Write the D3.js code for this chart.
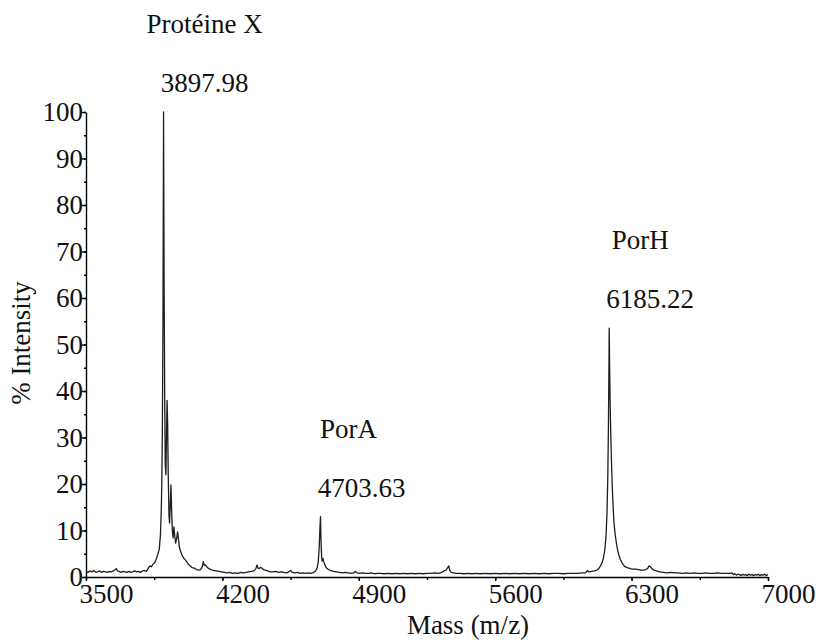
<!DOCTYPE html>
<html>
<head>
<meta charset="utf-8">
<script src="https://cdn.jsdelivr.net/npm/d3@7"></script>
<style>
  svg text { font-family: "Liberation Serif", "Times New Roman", serif !important; }
</style>
</head>
<body style="margin:0">
<script>
// spectrum, [m/z, % intensity], in pieces
const baseLow = [
  [3500,1.2],[3510,1.0],[3520,1.3],[3530,1.1],[3540,1.4],[3550,1.0],[3560,1.1],[3570,1.3],[3580,1.0],
  [3590,1.2],[3600,1.1],[3610,1.0],[3620,1.2],[3630,1.1],[3640,1.3],[3650,1.6],[3656,1.8],[3662,1.3],
  [3670,1.2],[3680,1.0],[3690,1.2],[3700,1.1],[3710,1.0],[3720,1.2],[3730,1.0],[3740,1.1],[3750,1.3],
  [3760,1.1],[3770,1.2],[3780,1.0],[3790,1.3],[3800,1.4],[3810,1.2],[3820,1.9]
];
const proteinX = [
  [3828,2.4],[3836,2.2],[3844,2.8],[3852,3.0],[3860,3.8],[3868,4.8],[3876,6.0],[3882,9],[3886,14],
  [3889,20],[3892,32],[3895,55],[3898,100],[3901,62],[3904,38],[3907,24],[3910,22],[3913,30],[3916,38],
  [3919,33],[3922,22],[3926,13],[3929,11.6],[3932,15],[3936,19.8],[3939,15],[3943,10],[3947,8.4],
  [3951,10.8],[3955,9],[3960,7.3],[3965,8.2],[3970,9.7],[3974,8.4],[3979,6.5],[3985,5.6],[3992,4.8],
  [3999,4.2],[4007,3.8],[4015,3.4],[4024,2.8],[4034,2.4],[4045,2.0],[4056,1.9],[4067,1.6],[4078,1.5],
  [4088,1.6],[4096,2.1],[4102,3.3],[4107,2.5],[4113,2.6],[4120,2.2],[4130,1.8],[4142,1.6],[4155,1.4]
];
const midNoise = [
  [4168,1.3],[4182,1.2],[4196,1.1],[4210,1.0],[4224,0.9],[4238,1.0],[4252,0.8],[4266,0.9],[4280,0.8],
  [4294,1.0],[4308,0.9],[4322,1.0],[4336,1.1],[4350,1.2],[4362,1.3],[4372,1.8],[4378,2.6],[4383,1.9],
  [4389,1.8],[4396,2.1],[4403,1.9],[4411,1.6],[4420,1.5],[4432,1.3],[4446,1.1],[4460,1.1],[4474,1.2],
  [4488,1.0],[4502,1.1],[4516,1.0],[4530,0.9],[4544,1.2],[4551,1.4],[4558,1.0],[4572,0.9],[4586,1.0],
  [4600,0.8],[4614,0.9],[4628,0.8],[4642,0.9],[4656,0.8],[4668,1.0]
];
const porA = [
  [4678,1.3],[4686,1.9],[4692,3.2],[4697,6.5],[4701,11],[4703.6,13],[4706,8],[4709,4.5],[4712,3.4],
  [4716,4.0],[4720,3.3],[4726,2.6],[4733,2.0],[4741,1.7],[4750,1.5],[4760,1.3],[4772,1.2],[4786,1.1],
  [4800,1.0]
];
const midBase = [
  [4815,0.9],[4830,1.0],[4845,0.9],[4860,0.8],[4875,0.9],[4882,1.2],[4890,0.9],[4905,0.8],[4920,0.9],
  [4935,0.8],[4950,0.8],[4965,0.9],[4980,0.7],[4995,0.8],[5010,0.8],[5030,0.7],[5050,0.8],[5070,0.7],
  [5090,0.8],[5110,0.7],[5130,0.8],[5150,0.7],[5170,0.8],[5190,0.7],[5210,0.8],[5230,0.7],[5250,0.8],
  [5270,0.8],[5290,0.9],[5310,0.8],[5325,1.0],[5338,1.3],[5348,1.5],[5356,2.0],[5362,2.4],[5367,1.4],
  [5374,1.0],[5385,0.9],[5400,0.8],[5420,0.8],[5440,0.7],[5460,0.8],[5480,0.7],[5500,0.8],[5525,0.7],
  [5550,0.8],[5575,0.7],[5600,0.8],[5625,0.7],[5650,0.8],[5675,0.7],[5700,0.8],[5725,0.7],[5750,0.8],
  [5775,0.7],[5800,0.8],[5825,0.7],[5850,0.8],[5875,0.7],[5900,0.8],[5925,0.8],[5950,0.7],[5975,0.8],
  [6000,0.8],[6025,0.8],[6045,0.9],[6062,0.9]
];
const porH = [
  [6068,1.1],[6074,1.4],[6080,1.1],[6095,1.2],[6110,1.3],[6122,1.5],[6133,1.9],[6142,2.5],[6150,3.3],
  [6156,4.2],[6163,6],[6169,9],[6174,14],[6178,22],[6181,32],[6183,42],[6185.2,53.5],[6187,46],
  [6190,37],[6194,29],[6198,23],[6203,17],[6209,12],[6216,9],[6225,6.5],[6234,4.8],[6242,3.8],
  [6252,3.0],[6264,2.3],[6278,2.0],[6292,1.8],[6306,1.7],[6320,1.7],[6334,1.6],[6348,1.5],[6362,1.5],
  [6374,1.6],[6383,1.9],[6390,2.4],[6396,2.2],[6404,1.8],[6414,1.5],[6428,1.3],[6444,1.1],[6462,1.0]
];
const tail = [
  [6480,0.9],[6500,1.0],[6520,0.9],[6540,0.9],[6560,0.8],[6580,0.9],[6600,0.8],[6620,0.9],[6640,0.8],
  [6660,0.8],[6680,0.9],[6700,0.8],[6720,0.8],[6740,0.9],[6760,0.8],[6780,0.8],[6800,0.8],[6815,0.9],
  [6822,0.5],[6830,0.7],[6838,0.4],[6846,0.6],[6854,0.5],[6862,0.3],[6870,0.6],[6878,0.4],[6886,0.5],
  [6894,0.3],[6902,0.6],[6910,0.4],[6918,0.5],[6926,0.3],[6934,0.5],[6942,0.4],[6950,0.6],[6958,0.3],
  [6966,0.5],[6974,0.4],[6982,0.6],[6990,0.3],[7000,0.5]
];

const xTicks = [3500, 4200, 4900, 5600, 6300, 7000];
const yTicks = [0, 10, 20, 30, 40, 50, 60, 70, 80, 90, 100];

// peak annotations: name, labelled mass, height of the label column
const peakNames = ["Protéine X", "PorA", "PorH"];
const peakMass = [3897.98, 4703.63, 6185.22];
const peakLabelTop = [100, 13, 53.5];

const spectrum = [].concat(baseLow, proteinX, midNoise, porA, midBase, porH, tail);

const width = 818, height = 644;
const svg = d3.select("body").append("svg")
    .attr("width", width)
    .attr("height", height);

const x = d3.scaleLinear().domain([3500, 7000]).range([86, 768]);
const y = d3.scaleLinear().domain([0, 100]).range([577, 112]);

// minor ticks first, then the major ones on top
svg.append("g")
    .attr("transform", `translate(0,${y(0)})`)
    .call(d3.axisBottom(x).tickValues(d3.range(3500, 7001, 350)).tickSize(3).tickFormat(""))
    .call(g => g.select(".domain").remove());

svg.append("g")
    .attr("transform", `translate(${x(3500)},0)`)
    .call(d3.axisLeft(y).tickValues(d3.range(0, 101, 5)).tickSize(2).tickFormat(""))
    .call(g => g.select(".domain").remove());

const xAxis = svg.append("g")
    .attr("transform", `translate(0,${y(0)})`)
    .call(d3.axisBottom(x).tickValues(xTicks).tickSize(4).tickSizeOuter(0).tickPadding(3).tickFormat(d3.format("d")));

xAxis.selectAll("text").attr("x", 20);

svg.append("g")
    .attr("transform", `translate(${x(3500)},0)`)
    .call(d3.axisLeft(y).tickValues(yTicks).tickSize(4).tickSizeOuter(0).tickPadding(-1));

svg.selectAll(".domain, .tick line")
    .attr("stroke", "#000")
    .attr("stroke-width", 1.4);

// the trace
const line = d3.line()
    .x(d => x(d[0]))
    .y(d => y(d[1]));

svg.append("path")
    .datum(spectrum)
    .attr("fill", "none")
    .attr("stroke", "#1e1e1e")
    .attr("stroke-width", 1.3)
    .attr("stroke-linejoin", "round")
    .attr("d", line);

// peak labels
const ann = svg.append("g").attr("text-anchor", "middle");
const nameDx = [41, 28, 31];
const massDx = [41, 41, 41];
peakMass.forEach((m, i) => {
  const top = y(peakLabelTop[i]);
  ann.append("text")
      .attr("x", x(m) + nameDx[i])
      .attr("y", top - 79)
      .text(peakNames[i]);
  ann.append("text")
      .attr("x", x(m) + massDx[i])
      .attr("y", top - 20)
      .text(m.toFixed(2));
});

// axis titles
svg.append("text")
    .attr("x", 468)
    .attr("y", 634)
    .attr("text-anchor", "middle")
    .text("Mass (m/z)");

svg.append("text")
    .attr("transform", "translate(30,343) rotate(-90)")
    .attr("text-anchor", "middle")
    .text("% Intensity");

// every text gets the serif face directly
svg.selectAll("text")
    .attr("font-family", "Liberation Serif")
    .style("font-family", "\"Liberation Serif\"")
    .attr("font-size", 27)
    .style("font-size", "27px")
    .attr("fill", "#111");
</script>
</body>
</html>
